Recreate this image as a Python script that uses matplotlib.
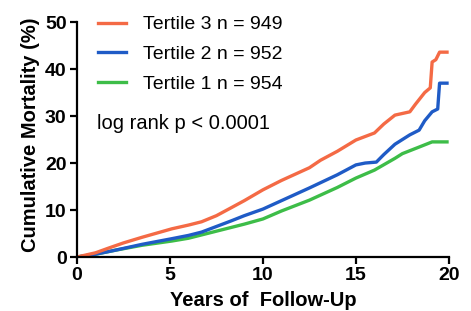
import matplotlib
matplotlib.use("Agg")
import matplotlib.pyplot as plt

plt.rcParams['font.family'] = ['Liberation Sans', 'DejaVu Sans']

# values (years, cumulative mortality %)
t3_years = [0, 1, 1.7, 2.5, 3.5, 4.3, 5.1, 6.0, 6.7, 7.5, 8.3, 9.0, 10.0, 11.0, 12.5, 13.1, 14.0, 15.0, 16.0, 16.5, 17.1, 17.9, 18.2, 18.7, 19.0, 19.1, 19.3, 19.5, 19.9]
t3_mort = [0, 0.9, 1.9, 3.0, 4.2, 5.1, 6.0, 6.8, 7.5, 8.8, 10.5, 12.0, 14.3, 16.3, 19.0, 20.6, 22.5, 24.9, 26.4, 28.3, 30.2, 30.9, 32.5, 35.0, 36.0, 41.5, 42.0, 43.6, 43.6]

t2_years = [0, 1, 2.0, 3.5, 5.1, 6.0, 6.7, 7.5, 8.3, 9.0, 10.0, 11.0, 12.5, 14.0, 15.0, 15.5, 16.1, 16.5, 17.1, 17.9, 18.4, 18.7, 19.1, 19.4, 19.5, 19.9]
t2_mort = [0, 0.6, 1.4, 2.7, 3.9, 4.6, 5.3, 6.5, 7.7, 8.8, 10.2, 12.0, 14.7, 17.5, 19.6, 20.0, 20.2, 21.8, 24.0, 26.0, 27.0, 29.0, 30.9, 31.5, 37.0, 37.0]

t1_years = [0, 1, 2.0, 3.5, 5.1, 6.0, 6.7, 7.5, 8.3, 9.0, 10.0, 11.0, 12.5, 14.0, 15.0, 16.0, 17.1, 17.5, 18.4, 19.1, 19.9]
t1_mort = [0, 0.6, 1.4, 2.5, 3.4, 4.0, 4.7, 5.5, 6.3, 7.0, 8.1, 9.8, 12.1, 14.8, 16.8, 18.5, 21.0, 22.0, 23.4, 24.5, 24.5]

labels = ['Tertile 3 n = 949', 'Tertile 2 n = 952', 'Tertile 1 n = 954']
colors = ['#f46a45', '#1f5bc6', '#3dbd48']

fig = plt.figure(figsize=(4.71, 3.11), dpi=100)
ax = fig.add_axes([0.1635, 0.1736, 0.7895, 0.7554])

l1, = ax.plot(t1_years, t1_mort, color=colors[2], lw=2.4)
l2, = ax.plot(t2_years, t2_mort, color=colors[1], lw=2.4)
l3, = ax.plot(t3_years, t3_mort, color=colors[0], lw=2.4)

ax.set_xlim(0, 20)
ax.set_ylim(0, 50)
ax.set_xticks([0, 5, 10, 15, 20])
ax.set_yticks([0, 10, 20, 30, 40, 50])
for s in ['top', 'right']:
    ax.spines[s].set_visible(False)
for s in ['left', 'bottom']:
    ax.spines[s].set_linewidth(1.6)
ax.tick_params(direction='out', length=5, width=1.6, labelsize=14, pad=2.5)
for lab in ax.get_xticklabels() + ax.get_yticklabels():
    lab.set_fontweight('bold')

ax.set_xlabel('Years of  Follow-Up', fontsize=14.5, fontweight='bold')
ax.xaxis.set_label_coords(0.501, -0.145)
ax.xaxis.label.set_va('top')
ax.set_ylabel('Cumulative Mortality (%)', fontsize=14.5, fontweight='bold')
ax.yaxis.set_label_coords(-0.1, 0.52)

leg = ax.legend([l3, l2, l1], labels, loc='upper left', bbox_to_anchor=(0.035, 1.06),
                frameon=False, fontsize=14, handlelength=1.45, handletextpad=0.85,
                labelspacing=0.62, borderaxespad=0)
ax.text(0.055, 0.57, 'log rank p < 0.0001', transform=ax.transAxes, fontsize=14.5,
        va='center', ha='left')

fig.savefig('out.png', dpi=100)
